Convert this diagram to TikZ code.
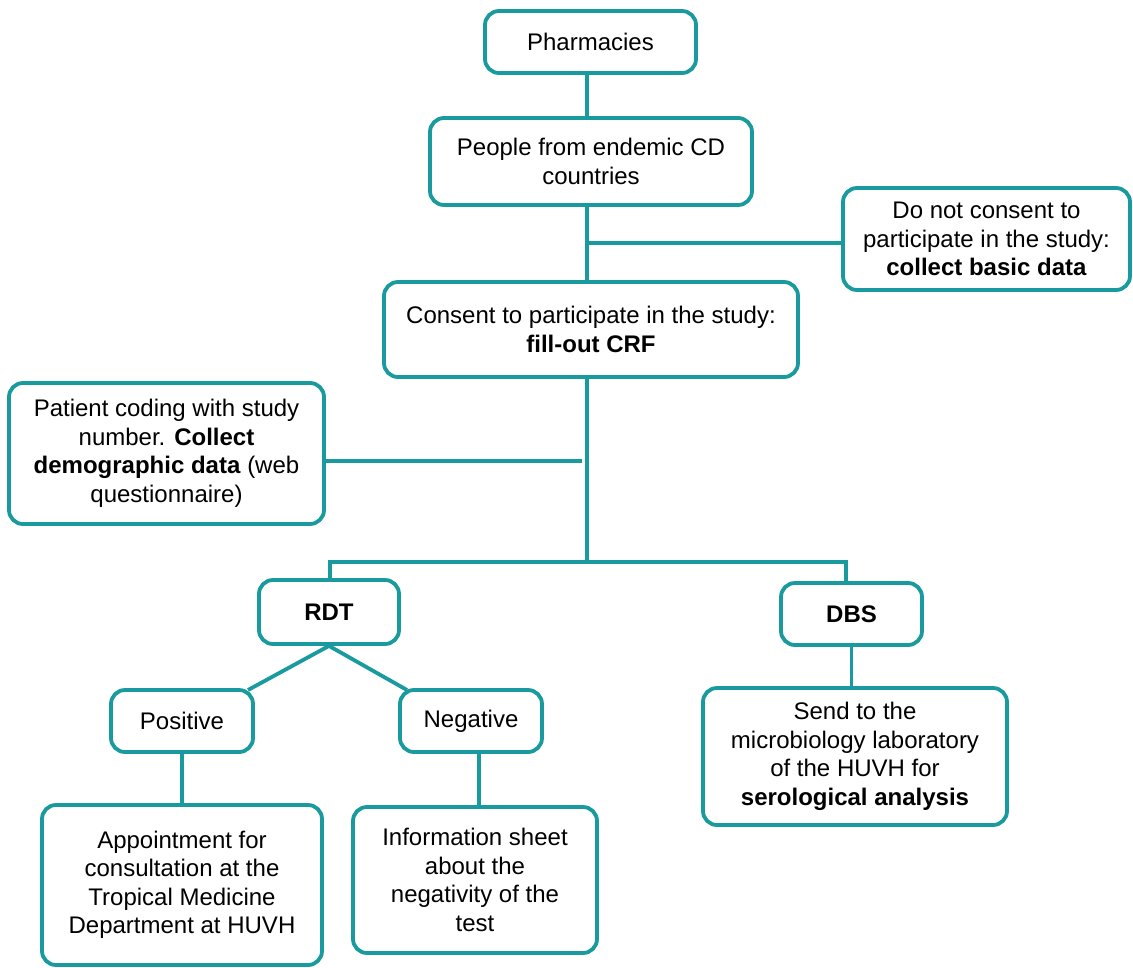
\documentclass[tikz,border=0pt]{standalone}
\usepackage{fontspec}
\setmainfont{Liberation Sans}
\definecolor{teal1}{RGB}{24,154,158}
\begin{document}
\begin{tikzpicture}[x=1pt,y=-1pt,
  box/.style={draw=teal1, line width=3.8pt, rounded corners=14pt, align=center,
    inner sep=0pt, font=\fontsize{24}{28.5}\selectfont, fill=white},
  conn/.style={draw=teal1, line width=3.8pt}]
\useasboundingbox (0,0) rectangle (1133,967);
\node[box, minimum width=211pt, minimum height=62pt] (pharm) at (590.5,42) {Pharmacies};
\node[box, minimum width=322pt, minimum height=87pt] (people) at (591,161.5) {People from endemic CD\\countries};
\node[box, minimum width=287pt, minimum height=102pt] (nocons) at (986.5,239) {Do not consent to\\participate in the study:\\\textbf{collect basic data}};
\node[box, minimum width=414pt, minimum height=95pt] (consent) at (591,329.5) {Consent to participate in the study:\\\textbf{fill-out CRF}};
\node[box, minimum width=315pt, minimum height=141pt] (patient) at (166.5,453.5) {Patient coding with study\\number. \textbf{Collect}\\\textbf{demographic data} (web\\questionnaire)};
\node[box, minimum width=140pt, minimum height=64pt] (rdt) at (329,612) {\textbf{RDT}};
\node[box, minimum width=141pt, minimum height=62pt] (dbs) at (851.5,614) {\textbf{DBS}};
\node[box, minimum width=142pt, minimum height=62pt] (pos) at (182,721) {Positive};
\node[box, minimum width=142pt, minimum height=62pt] (neg) at (471,721) {Negative};
\node[box, minimum width=280pt, minimum height=160pt] (appt) at (182,885) {Appointment for\\consultation at the\\Tropical Medicine\\Department at HUVH};
\node[box, minimum width=244pt, minimum height=146pt] (info) at (475,880) {Information sheet\\about the\\negativity of the\\test};
\node[box, minimum width=304pt, minimum height=137pt] (send) at (855,756.5) {Send to the\\microbiology laboratory\\of the HUVH for\\\textbf{serological analysis}};
\coordinate (t) at (587,0);
\coordinate (b1) at (587,243);
\coordinate (hub) at (587,562);
\coordinate (pl) at (582,461);
\coordinate (hl) at (330,562);
\coordinate (hr) at (846,562);
\coordinate (pa) at (248,690);
\coordinate (na) at (407,690);
\coordinate (nl) at (479,0);
\draw[conn] (pharm.south -| t) -- (people.north -| t);
\draw[conn] (people.south -| t) -- (consent.north -| t);
\draw[conn] (b1) -- (nocons.west |- b1);
\draw[conn] (consent.south -| t) -- (hub);
\draw[conn] (patient.east |- pl) -- (pl);
\draw[conn] (rdt.north -| hl) -- (hl) -- (hr) -- (dbs.north -| hr);
\draw[conn] (pa) -- (rdt.south) -- (na);
\draw[conn] (pos.south) -- (appt.north);
\draw[conn] (neg.south -| nl) -- (info.north -| nl);
\draw[conn] (dbs.south) -- (dbs.south |- send.north);
\end{tikzpicture}
\end{document}
